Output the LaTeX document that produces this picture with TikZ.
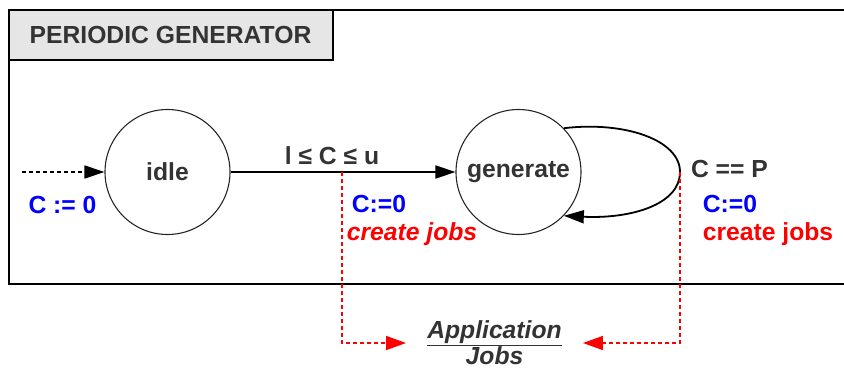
\documentclass[tikz,border=0pt]{standalone}
\usepackage{fontspec}
\setmainfont{Liberation Sans}
\usetikzlibrary{arrows.meta,calc}
\definecolor{txtgray}{HTML}{333333}
\definecolor{titlefill}{HTML}{E6E6E6}
\definecolor{actblue}{HTML}{0000FF}
\definecolor{actred}{HTML}{FF0000}
\newcommand{\lblfont}{\fontsize{24.7}{29}\selectfont\bfseries}
\tikzset{
  lbl/.style={font=\lblfont, inner sep=0pt},
  statecirc/.style={circle, draw=black!85, line width=1.1pt, minimum size=125pt, inner sep=0pt,
                    font=\lblfont, text=txtgray},
  trans/.style={line width=1.8pt, -{Triangle[length=20pt,width=13pt]}},
  initarrow/.style={line width=1.6pt, dash pattern=on 4pt off 3pt, -{Triangle[length=20pt,width=13pt]}},
  jobflow/.style={actred, line width=1.4pt, dash pattern=on 4pt off 3pt, -{Triangle[length=20pt,width=14pt]}},
}
\begin{document}
\begin{tikzpicture}[x=1pt,y=-1pt]
  \useasboundingbox (0,0) rectangle (844,370);
  % frame of the generator and its title tab
  \begin{scope}
    \clip (0,0) rectangle (844,370);
    \draw[line width=1.5pt] (9,10) rectangle (860,284);
    \draw[line width=1.5pt, fill=titlefill] (9,10) rectangle (333,60);
  \end{scope}
  \node[lbl, text=txtgray] (title) at (170.5,35) {PERIODIC GENERATOR};

  % states
  \node[statecirc] (idle) at (167.5,172) {idle};
  \node[statecirc] (gen) at (518.5,172) {generate};

  % initial transition
  \coordinate (start) at (22,172);
  \draw[initarrow] (start) -- (idle.west);
  \node[lbl, text=actblue] (init) at (62.5,204.5) {C := 0};

  % idle -> generate
  \draw[trans] (idle.east) -- (gen.west);
  \node[lbl, text=txtgray] (guard1) at (332,156) {l ≤ C ≤ u};
  \node[lbl, text=actblue] (act1) at (379,204) {C:=0};
  \node[lbl, text=actred, font=\lblfont\itshape] (job1) at (412,234.5) {create jobs};
  \coordinate (tap1) at (342,172);

  % self loop on generate
  \coordinate (tap2) at (680,172);
  \draw[line width=1.8pt, -{Triangle[length=20pt,width=13pt]}]
    (gen.44) .. controls (625,121) and (680,140) .. (tap2)
             .. controls (680,205) and (630,219) .. (gen.-44);
  \node[lbl, text=txtgray] (guard2) at (729.5,168.5) {C == P};
  \node[lbl, text=actblue] (act2) at (730,204) {C:=0};
  \node[lbl, text=actred] (job2) at (768,234) {create jobs};

  % application jobs
  \node[font=\lblfont\itshape, text=txtgray, align=center,
        inner xsep=21pt, inner ysep=0pt] (app) at (494.5,343) {\underline{Application}\\[-3pt]Jobs};
  \draw[jobflow] (tap1) |- (app.west);
  \draw[jobflow] (tap2) |- (app.east);
\end{tikzpicture}
\end{document}
